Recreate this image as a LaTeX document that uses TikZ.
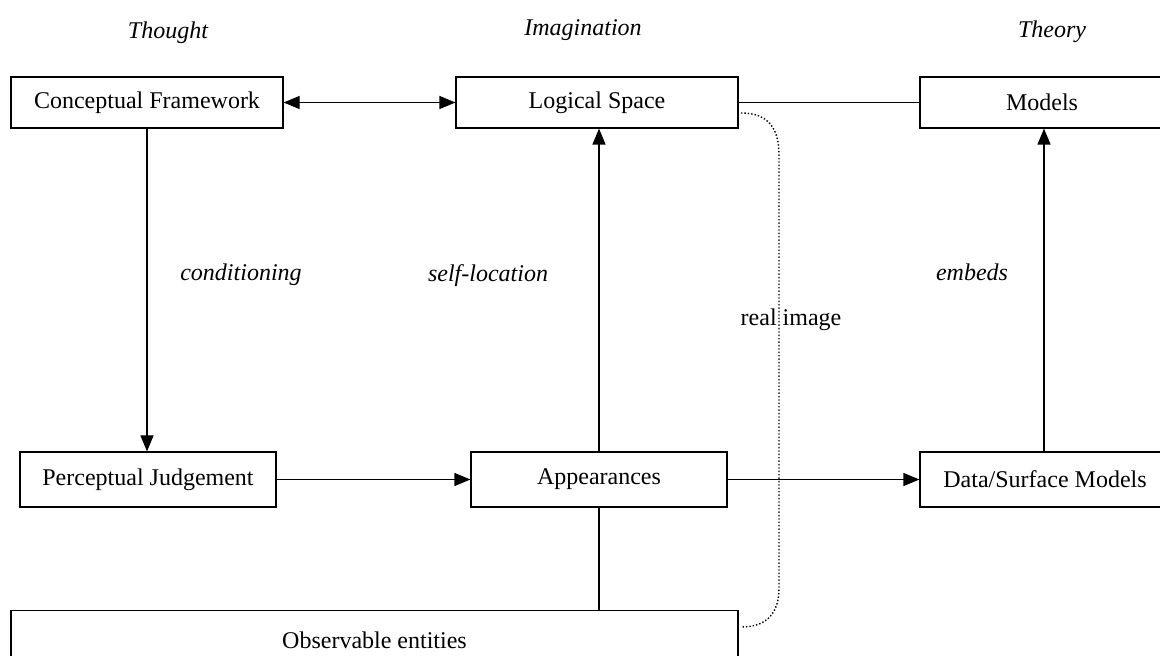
\documentclass[tikz,border=0pt]{standalone}
\usepackage{fontspec}
\setmainfont{Liberation Serif}
\usetikzlibrary{arrows.meta}
\begin{document}
\begin{tikzpicture}[x=0.5pt,y=-0.5pt,
  box/.style={draw, line width=0.6pt, inner sep=0pt, font=\fontsize{12}{14}\selectfont},
  lbl/.style={font=\fontsize{12}{14}\selectfont\itshape, inner sep=0pt},
  conn/.style={line width=0.6pt},
  arr/.style={conn, -{Triangle[length=8pt,width=6.5pt]}},
  darr/.style={conn, {Triangle[length=8pt,width=6.5pt]}-{Triangle[length=8pt,width=6.5pt]}},
  dots/.style={line width=0.7pt, dash pattern=on 0.7pt off 1.0pt}
]
\useasboundingbox (0,0) rectangle (1160,656);
% headers
\node[lbl] (th) at (168,33) {Thought};
\node[lbl] (im) at (583,30) {Imagination};
\node[lbl] (ty) at (1052,32) {Theory};
% boxes
\node[box, minimum width=136pt, minimum height=25.5pt] (cf) at (147,102.5) {Conceptual Framework};
\node[box, minimum width=141pt, minimum height=25.5pt] (ls) at (597,102.5) {Logical Space};
\node[box, minimum width=122pt, minimum height=25.5pt] (mo) at (1042,102.5) {Models};
\node[box, minimum width=128pt, minimum height=27.5pt] (pj) at (148,479.5) {Perceptual Judgement};
\node[box, minimum width=128pt, minimum height=27.5pt] (ap) at (599,479.5) {Appearances};
\node[box, minimum width=125pt, minimum height=27.5pt] (ds) at (1045,479.5) {Data/Surface Models};
\node[box, minimum width=363.5pt, minimum height=30pt, anchor=north] (ob) at (374.5,610) {Observable entities};
% labels
\node[lbl] (cond) at (241,275) {conditioning};
\node[lbl] (self) at (488,276) {self-location};
\node[lbl] (emb) at (972,272) {embeds};
\node[lbl, font=\fontsize{12}{14}\selectfont] (ri) at (791,320) {real image};
% connectors
\draw[darr] (cf.east) -- (ls.west);
\draw[conn] (ls.east) -- (mo.west);
\draw[arr] (cf.south) -- (pj.north -| cf.south);
\draw[arr] (ap.north) -- (ls.south -| ap.north);
\draw[arr] (ds.north -| 1044,0) -- (mo.south -| 1044,0);
\draw[arr] (pj.east) -- (ap.west);
\draw[arr] (ap.east) -- (ds.west);
\draw[conn] (ap.south) -- (ob.north -| ap.south);
\coordinate (d1) at (741,113);
\coordinate (d2) at (741,627);
\draw[dots] (d1) .. controls (768,113) and (779,128) .. (779,155) -- (779,588) .. controls (779,612) and (768,627) .. (d2);
\end{tikzpicture}
\end{document}
